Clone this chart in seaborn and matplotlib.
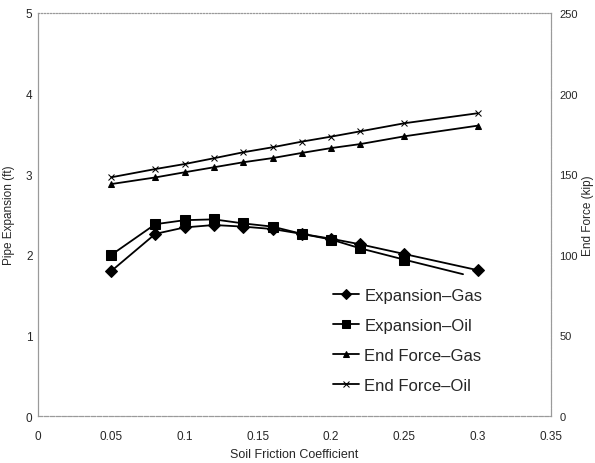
import matplotlib

matplotlib.use("Agg")
import matplotlib.pyplot as plt
import seaborn as sns

# Values
friction = [0.05, 0.08, 0.10, 0.12, 0.14, 0.16, 0.18, 0.20, 0.22, 0.25, 0.30]
friction_oil = [0.05, 0.08, 0.10, 0.12, 0.14, 0.16, 0.18, 0.20, 0.22, 0.25, 0.29]
expansion_gas = [1.80, 2.26, 2.34, 2.37, 2.35, 2.32, 2.26, 2.20, 2.13, 2.01, 1.81]
expansion_oil = [2.00, 2.38, 2.43, 2.44, 2.39, 2.35, 2.26, 2.19, 2.08, 1.94, 1.76]
force_gas = [143.9, 148.0, 151.2, 154.3, 157.4, 160.0, 163.2, 166.2, 168.7, 173.5, 180.1]
force_oil = [148.1, 153.2, 156.3, 159.9, 163.6, 166.7, 170.2, 173.3, 176.6, 181.6, 187.8]

labels = ["Expansion\u2013Gas", "Expansion\u2013Oil", "End Force\u2013Gas", "End Force\u2013Oil"]

sns.set_style("white")
plt.rcParams["font.family"] = ["Liberation Sans", "DejaVu Sans"]

fig = plt.figure(figsize=(5.95, 4.64), dpi=100)
ax = fig.add_axes([0.064, 0.101, 0.862, 0.869])
ax2 = ax.twinx()

series = [
    (ax, friction, expansion_gas, labels[0], "D", 6),
    (ax, friction_oil, expansion_oil, labels[1], "s", 6.5),
    (ax2, friction, force_gas, labels[2], "^", 5),
    (ax2, friction, force_oil, labels[3], "x", 5),
]
handles = []
for axis, xs, ys, label, marker, size in series:
    sns.lineplot(
        x=xs, y=ys, color="black", marker=marker, markersize=size,
        markeredgecolor="black", linewidth=1.3, sort=False,
        estimator=None, ax=axis,
    )
    handles.append(axis.lines[-1])
# the oil expansion line has no marker at its last point
handles[1].set_markevery(list(range(len(friction_oil) - 1)))

ax.set_xlim(0, 0.35)
ax.set_ylim(0, 5)
ax2.set_ylim(0, 250)
ax.set_xticks([0, 0.05, 0.1, 0.15, 0.2, 0.25, 0.3, 0.35])
ax.set_xticklabels(["0", "0.05", "0.1", "0.15", "0.2", "0.25", "0.3", "0.35"])
ax.set_yticks(range(6))
ax2.set_yticks(range(0, 251, 50))
ax.set_xlabel("Soil Friction Coefficient", fontsize=9, labelpad=4)
ax.set_ylabel("Pipe Expansion (ft)", fontsize=8.5, labelpad=8)
ax2.set_ylabel("End Force (kip)", fontsize=8.5, labelpad=3)
for a in (ax, ax2):
    a.tick_params(labelsize=8.5, length=0)
    for side in ("top", "bottom", "left", "right"):
        a.spines[side].set_color("#9a9a9a")
        a.spines[side].set_linewidth(0.8)
ax.tick_params(axis="x", pad=10)
ax.tick_params(axis="y", pad=4)
ax2.tick_params(axis="y", pad=6, labelsize=8)
ax.spines["top"].set_linestyle(":")
ax2.spines["top"].set_linestyle(":")
ax2.spines["right"].set_linestyle("-.")
ax.spines["bottom"].set_linestyle("--")
ax2.spines["bottom"].set_linestyle("--")

ax2.legend(
    handles, labels, loc="lower left", bbox_to_anchor=(0.545, 0.02),
    frameon=False, handlelength=1.6, handletextpad=0.3,
    labelspacing=0.9, markerscale=0.8, fontsize=12,
)

fig.savefig("out.png", dpi=100)
